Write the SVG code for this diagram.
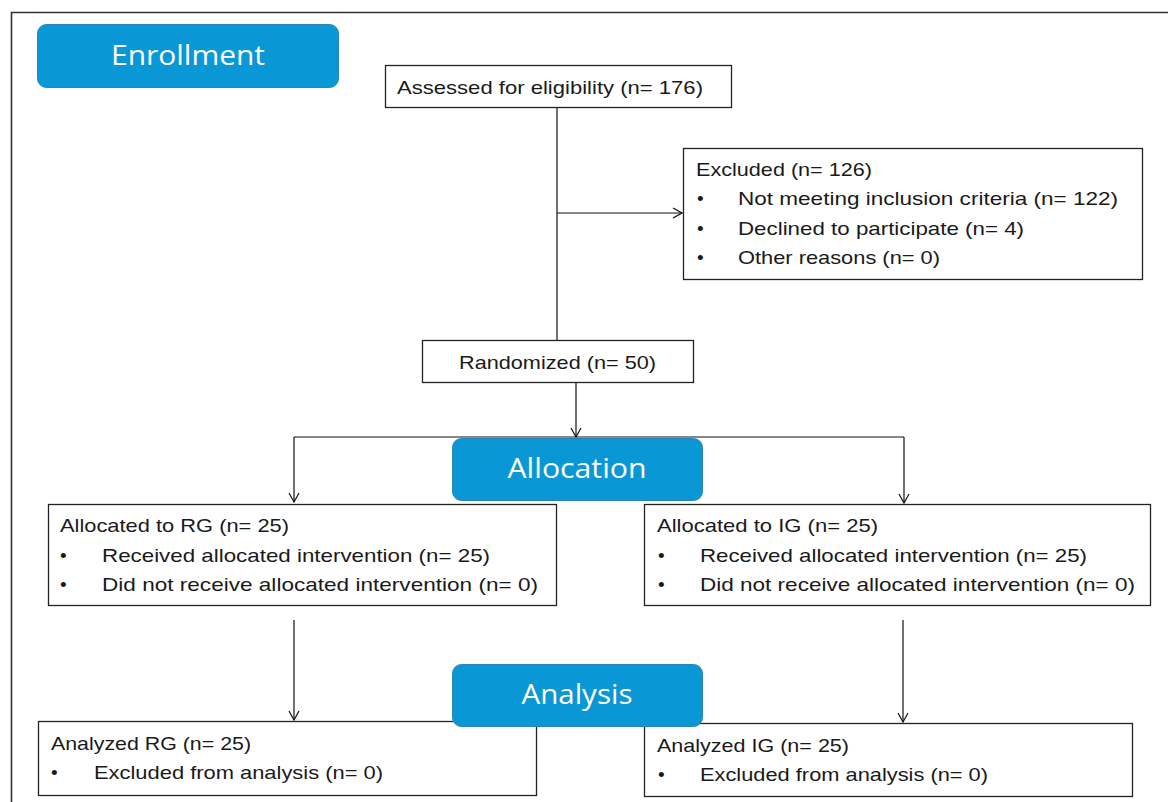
<svg xmlns="http://www.w3.org/2000/svg" width="1168" height="802" viewBox="0 0 1168 802">
<style>
.box{fill:#fff;stroke:#222;stroke-width:1.3}
.hdr{fill:#0997d5;stroke:#2a84b8;stroke-width:1}
.t{font-family:"Liberation Sans",Arial,sans-serif;font-size:19px;fill:#1a1a1a}
.h{font-family:"Open Sans","Liberation Sans",sans-serif;font-size:27px;fill:#fff;text-anchor:middle}
.ln{fill:none;stroke:#111;stroke-width:1.2}
</style>
<defs>
<marker id="arr" markerUnits="userSpaceOnUse" viewBox="0 0 12 12" refX="11" refY="6" markerWidth="12" markerHeight="12" orient="auto">
<path d="M2,1 L11,6 L2,11" fill="none" stroke="#111" stroke-width="1.2"/>
</marker>
</defs>
<rect width="1168" height="802" fill="#fff"/>
<path d="M11.5,802 V12.5 H1168" fill="none" stroke="#333" stroke-width="1.6"/>
<g id="connectors">
<path class="ln" d="M557,107 V340"/>
<path class="ln" d="M557,213 H682" marker-end="url(#arr)"/>
<path class="ln" d="M576,383 V437" marker-end="url(#arr)"/>
<path class="ln" d="M294,437 H904"/>
<path class="ln" d="M294,437 V502" marker-end="url(#arr)"/>
<path class="ln" d="M904,437 V503" marker-end="url(#arr)"/>
<path class="ln" d="M294,620 V720" marker-end="url(#arr)"/>
<path class="ln" d="M903,620 V722" marker-end="url(#arr)"/>
</g>
<g id="enrollment">
<rect class="hdr" x="37.5" y="24.5" width="301" height="63" rx="9"/>
<text class="h" x="188" y="65" textLength="154" lengthAdjust="spacingAndGlyphs">Enrollment</text>
</g>
<g id="assessed">
<rect class="box" x="385.5" y="65.5" width="346" height="42"/>
<text class="t" x="397" y="94" textLength="306" lengthAdjust="spacingAndGlyphs">Assessed for eligibility (n= 176)</text>
</g>
<g id="excluded">
<rect class="box" x="683.5" y="148.5" width="459" height="131"/>
<text class="t" x="696" y="176" textLength="176" lengthAdjust="spacingAndGlyphs">Excluded  (n= 126)</text>
<text class="t" x="697" y="205">•</text>
<text class="t" x="738" y="205" textLength="380" lengthAdjust="spacingAndGlyphs">Not meeting inclusion criteria (n= 122)</text>
<text class="t" x="697" y="235">•</text>
<text class="t" x="738" y="235" textLength="286" lengthAdjust="spacingAndGlyphs">Declined  to participate (n= 4)</text>
<text class="t" x="697" y="264">•</text>
<text class="t" x="738" y="264" textLength="202" lengthAdjust="spacingAndGlyphs">Other reasons (n= 0)</text>
</g>
<g id="randomized">
<rect class="box" x="422.5" y="340.5" width="271" height="42"/>
<text class="t" x="459" y="369" textLength="197" lengthAdjust="spacingAndGlyphs">Randomized (n= 50)</text>
</g>
<g id="allocation">
<rect class="hdr" x="452.5" y="438.5" width="250" height="62" rx="9"/>
<text class="h" x="577" y="478" textLength="139" lengthAdjust="spacingAndGlyphs">Allocation</text>
</g>
<g id="alloc-rg">
<rect class="box" x="48.5" y="504.5" width="508" height="101"/>
<text class="t" x="60" y="532" textLength="229" lengthAdjust="spacingAndGlyphs">Allocated to RG (n= 25)</text>
<text class="t" x="60" y="562">•</text>
<text class="t" x="102" y="562" textLength="388" lengthAdjust="spacingAndGlyphs">Received allocated intervention (n= 25)</text>
<text class="t" x="60" y="591">•</text>
<text class="t" x="102" y="591" textLength="436" lengthAdjust="spacingAndGlyphs">Did not receive allocated intervention (n= 0)</text>
</g>
<g id="alloc-ig">
<rect class="box" x="644.5" y="504.5" width="506" height="101"/>
<text class="t" x="657" y="532" textLength="221" lengthAdjust="spacingAndGlyphs">Allocated to IG (n= 25)</text>
<text class="t" x="658" y="562">•</text>
<text class="t" x="700" y="562" textLength="387" lengthAdjust="spacingAndGlyphs">Received allocated intervention (n= 25)</text>
<text class="t" x="658" y="591">•</text>
<text class="t" x="700" y="591" textLength="435" lengthAdjust="spacingAndGlyphs">Did not receive allocated intervention (n= 0)</text>
</g>
<g id="analyzed-rg">
<rect class="box" x="38.5" y="721.5" width="498" height="74"/>
<text class="t" x="51" y="750" textLength="200" lengthAdjust="spacingAndGlyphs">Analyzed RG (n= 25)</text>
<text class="t" x="51" y="779">•</text>
<text class="t" x="94" y="779" textLength="289" lengthAdjust="spacingAndGlyphs">Excluded  from analysis (n= 0)</text>
</g>
<g id="analyzed-ig">
<rect class="box" x="644.5" y="723.5" width="488" height="73"/>
<text class="t" x="657" y="752" textLength="192" lengthAdjust="spacingAndGlyphs">Analyzed IG (n= 25)</text>
<text class="t" x="658" y="781">•</text>
<text class="t" x="700" y="781" textLength="288" lengthAdjust="spacingAndGlyphs">Excluded  from analysis (n= 0)</text>
</g>
<g id="analysis">
<rect class="hdr" x="452.5" y="664.5" width="250" height="62" rx="9"/>
<text class="h" x="577" y="704" textLength="111" lengthAdjust="spacingAndGlyphs">Analysis</text>
</g>
</svg>
